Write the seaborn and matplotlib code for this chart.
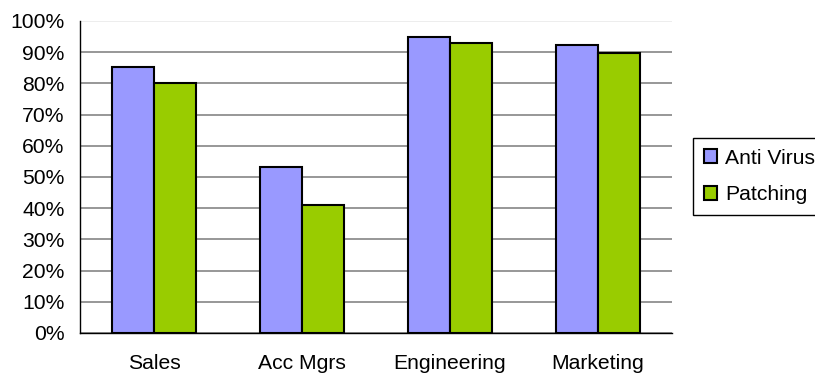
import matplotlib
matplotlib.use("Agg")
import matplotlib.pyplot as plt
import seaborn as sns
import pandas as pd
import numpy as np
from matplotlib.ticker import FuncFormatter, FixedLocator

categories = ["Sales", "Acc Mgrs", "Engineering", "Marketing"]
anti_virus = [85.3, 53.3, 94.9, 92.4]
patching = [80.1, 41.0, 92.9, 89.8]
series_names = ["Anti Virus", "Patching"]
colors = ["#9999FF", "#99CC00"]

df = pd.DataFrame({
    "Department": categories * 2,
    "Value": anti_virus + patching,
    "Series": [series_names[0]] * 4 + [series_names[1]] * 4,
})

sns.set_style("white")
plt.rcParams["font.family"] = ["Liberation Sans", "DejaVu Sans"]
plt.rcParams["text.color"] = "black"
plt.rcParams["xtick.color"] = "black"
plt.rcParams["ytick.color"] = "black"

fig = plt.figure(figsize=(8.15, 3.77), dpi=100)
ax = fig.add_axes([80 / 815, 44 / 377, (672 - 80) / 815, (333 - 21) / 377])

sns.barplot(data=df, x="Department", y="Value", hue="Series", order=categories,
            hue_order=series_names, palette=colors, width=0.567, gap=0,
            edgecolor="black", linewidth=1.5, saturation=1, ax=ax, legend=True)

ax.set_xlim(-0.5, 3.5)
ax.set_ylim(0, 100)
ax.set_xlabel("")
ax.set_ylabel("")

ax.set_yticks(np.arange(0, 101, 10))
ax.yaxis.set_major_formatter(FuncFormatter(lambda v, p: f"{int(v)}%"))
ax.yaxis.grid(True, color="#7a7a7a", linewidth=1.1)
ax.set_axisbelow(True)
ax.get_ygridlines()[-1].set_color("#e8e8e8")

ax.xaxis.set_minor_locator(FixedLocator(np.arange(-0.5, 4, 1)))
ax.tick_params(axis="x", which="major", length=0, pad=15, labelsize=15.2, labelcolor="black")
ax.tick_params(axis="x", which="minor", length=5, width=1, color="black", direction="out")
ax.tick_params(axis="y", which="major", length=5, width=1, color="black", direction="out", pad=6, labelsize=15.2, labelcolor="black")

for s in ["top", "right"]:
    ax.spines[s].set_visible(False)
for s in ["left", "bottom"]:
    ax.spines[s].set_color("black")
    ax.spines[s].set_linewidth(1)

handles, labels = ax.get_legend_handles_labels()
if ax.legend_:
    ax.legend_.remove()
leg = fig.legend(handles, labels, loc="upper left",
                 bbox_to_anchor=(693 / 815, 1 - 138 / 377), frameon=True,
                 fancybox=False, edgecolor="black", framealpha=1,
                 fontsize=15.2, handlelength=0.62, handleheight=0.62,
                 handletextpad=0.4, labelspacing=0.85, borderpad=0.5,
                 borderaxespad=0)
leg.get_frame().set_linewidth(1)
for t in leg.get_texts():
    t.set_color("black")

fig.savefig("out.png", dpi=100)
